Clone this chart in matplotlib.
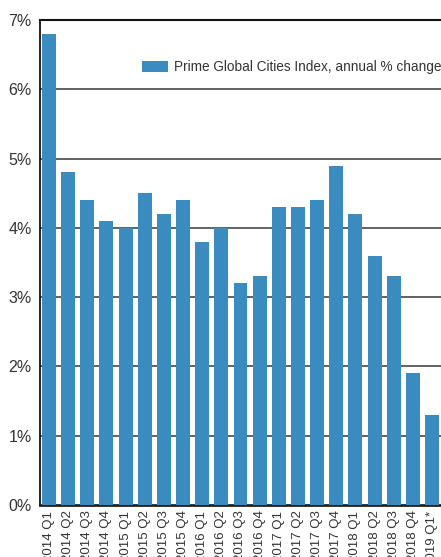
import matplotlib
matplotlib.use("Agg")
import matplotlib.pyplot as plt

quarters = ["2014 Q1", "2014 Q2", "2014 Q3", "2014 Q4", "2015 Q1", "2015 Q2", "2015 Q3",
            "2015 Q4", "2016 Q1", "2016 Q2", "2016 Q3", "2016 Q4", "2017 Q1", "2017 Q2",
            "2017 Q3", "2017 Q4", "2018 Q1", "2018 Q2", "2018 Q3", "2018 Q4", "2019 Q1*"]
values = [6.8, 4.8, 4.4, 4.1, 4.0, 4.5, 4.2, 4.4, 3.8, 4.0, 3.2, 3.3,
          4.3, 4.3, 4.4, 4.9, 4.2, 3.6, 3.3, 1.9, 1.3]
yticks = [0, 1, 2, 3, 4, 5, 6, 7]
series_name = "Prime Global Cities Index, annual % change"

plt.rcParams['font.family'] = ["Liberation Sans", "DejaVu Sans"]

fig = plt.figure(figsize=(4.41, 5.57), dpi=100)
ax = fig.add_axes([40/441, 1 - 505/557, 1 - 40/441, (505 - 20)/557])

x = list(range(len(quarters)))
ax.bar(x, values, width=0.73, color="#3a8bbf", label=series_name, zorder=3)

ax.set_ylim(0, 7)
ax.set_xlim(-0.47, len(quarters) - 0.53)
ax.set_yticks(yticks)
ax.set_yticklabels([f"{t}%" for t in yticks], fontsize=11.5, color="#333333")
ax.set_xticks(x)
ax.set_xticklabels(quarters, rotation=90, fontsize=9.5, color="#333333")
ax.tick_params(axis='y', length=0, pad=6)
ax.tick_params(axis='x', length=0, pad=4)

for t in yticks[1:-1]:
    ax.axhline(t, color="#555555", lw=1.3, zorder=1)
ax.axhline(7, color="#111111", lw=1.5, zorder=1, clip_on=False)

for s in ["top", "right"]:
    ax.spines[s].set_visible(False)
ax.spines["left"].set_color("#111111")
ax.spines["left"].set_linewidth(1.3)
ax.spines["bottom"].set_color("#222222")
ax.spines["bottom"].set_linewidth(2)

leg = ax.legend(loc="center right", bbox_to_anchor=(1.0, 0.903), frameon=False,
                fontsize=9.8, handlelength=1.9, handleheight=0.9, handletextpad=0.4,
                borderaxespad=0.0, borderpad=0.0)
for t in leg.get_texts():
    t.set_color("#333333")

fig.savefig("out.png", dpi=100)
